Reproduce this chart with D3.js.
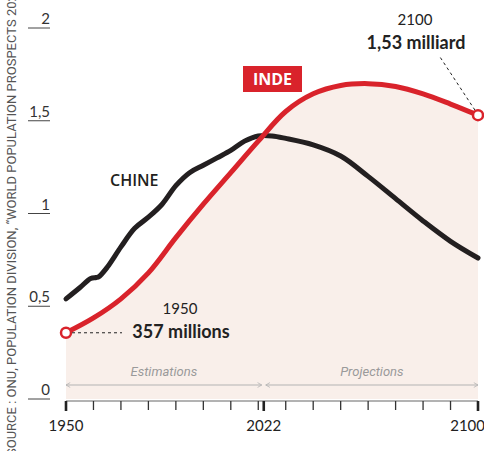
<!DOCTYPE html>
<html>
<head>
<meta charset="utf-8">
<script src="https://cdn.jsdelivr.net/npm/d3@7"></script>
<style>
  body { margin: 0; background: #fff; }
  svg { display: block; }
</style>
</head>
<body>
<div id="chart"></div>
<script>
// population in billions
var india_years = [1950, 1960, 1970, 1980, 1990, 2000, 2010, 2020, 2030, 2040, 2050, 2060, 2070, 2080, 2090, 2100];
var india_pop   = [0.357, 0.437, 0.54, 0.68, 0.87, 1.05, 1.22, 1.39, 1.55, 1.645, 1.69, 1.70, 1.685, 1.645, 1.59, 1.53];

var china_years = [1950, 1955, 1959, 1961, 1962, 1965, 1970, 1975, 1980, 1985, 1990, 1995, 2000, 2005, 2010, 2015, 2020, 2025, 2030, 2040, 2050, 2060, 2070, 2080, 2090, 2100];
var china_pop   = [0.54, 0.6, 0.65, 0.655, 0.66, 0.71, 0.82, 0.92, 0.98, 1.05, 1.15, 1.22, 1.26, 1.30, 1.34, 1.39, 1.418, 1.418, 1.405, 1.37, 1.31, 1.20, 1.08, 0.96, 0.85, 0.76];

var y_ticks = [0, 0.5, 1, 1.5, 2];
var y_labels = ["0", "0,5", "1", "1,5", "2"];
var x_major = [1950, 2022, 2100];
var x_minor = [1960, 1970, 1980, 1990, 2000, 2010, 2020, 2030, 2040, 2050, 2060, 2070, 2080, 2090];

var RED = "#d9232b", BLACK = "#231f20", PINK = "#f9efea", GREY = "#b3b3b3";

var width = 484, height = 451;

var svg = d3.select("#chart")
    .append("svg")
    .attr("width", width)
    .attr("height", height);

var x = d3.scaleLinear().domain([1950, 2100]).range([66, 478]);
var y = d3.scaleLinear().domain([0, 2]).range([399, 28]);

var india = india_years.map((d, i) => ({year: d, v: india_pop[i]}));
var china = china_years.map((d, i) => ({year: d, v: china_pop[i]}));

var curve = d3.curveCatmullRom.alpha(0.5);

// pink area under india
svg.append("path")
    .datum(india)
    .attr("fill", PINK)
    .attr("d", d3.area().curve(curve)
        .x(d => x(d.year)).y0(y(0)).y1(d => y(d.v)));

// y axis: labels sitting on short underlines
var yg = svg.append("g");
y_ticks.forEach(function (t, i) {
    yg.append("line")
        .attr("x1", 28).attr("x2", 50)
        .attr("y1", y(t)).attr("y2", y(t))
        .attr("stroke", "#444").attr("stroke-width", 1);
    yg.append("text")
        .attr("x", 50).attr("y", y(t) - 4)
        .attr("text-anchor", "end")
        .style("font-family", "Lato, sans-serif")
        .style("font-size", "15px")
        .attr("fill", "#333")
        .text(y_labels[i]);
});

// x axis
var xg = svg.append("g");
xg.append("line")
    .attr("x1", x(1950)).attr("x2", x(2100))
    .attr("y1", 401).attr("y2", 401)
    .attr("stroke", "#666").attr("stroke-width", 1);
xg.selectAll(".minor").data(x_minor).enter().append("line")
    .attr("x1", d => x(d)).attr("x2", d => x(d))
    .attr("y1", 401).attr("y2", 410)
    .attr("stroke", "#333").attr("stroke-width", 1.3);
xg.selectAll(".major").data(x_major).enter().append("line")
    .attr("x1", d => x(d)).attr("x2", d => x(d))
    .attr("y1", 401).attr("y2", 411)
    .attr("stroke", "#222").attr("stroke-width", 2.6);
xg.selectAll(".lab").data(x_major).enter().append("text")
    .attr("x", d => x(d)).attr("y", 431)
    .attr("text-anchor", d => d == 2100 ? "end" : "middle")
    .attr("dx", d => d == 2100 ? 7 : 0)
    .style("font-family", "Lato, sans-serif")
    .style("font-size", "15px")
    .attr("fill", "#222")
    .text(d => d);

// estimations / projections arrows
var defs = svg.append("defs");
defs.append("marker").attr("id", "arr").attr("viewBox", "0 0 10 10")
    .attr("refX", 9).attr("refY", 5)
    .attr("markerWidth", 6).attr("markerHeight", 6)
    .attr("orient", "auto-start-reverse")
    .append("path").attr("d", "M2,1 L9,5 L2,9")
    .attr("fill", "none").attr("stroke", GREY).attr("stroke-width", 1.3);

[[1950, 2022, "Estimations"], [2022, 2100, "Projections"]].forEach(function (p) {
    var x0 = x(p[0]) + (p[0] == 2022 ? 2 : 0), x1 = x(p[1]) - (p[1] == 2022 ? 2 : 0);
    svg.append("line")
        .attr("x1", x0).attr("x2", x1)
        .attr("y1", 385).attr("y2", 385)
        .attr("stroke", GREY).attr("stroke-width", 1)
        .attr("marker-start", "url(#arr)")
        .attr("marker-end", "url(#arr)");
    svg.append("text")
        .attr("x", (x0 + x1) / 2).attr("y", 376)
        .attr("text-anchor", "middle")
        .style("font-family", "Roboto, sans-serif")
        .style("font-style", "italic")
        .style("font-size", "13px")
        .attr("fill", "#9a9a9a")
        .text(p[2]);
});

// lines
var line = d3.line().curve(curve).x(d => x(d.year)).y(d => y(d.v));
svg.append("path").datum(china)
    .attr("fill", "none").attr("stroke", BLACK)
    .attr("stroke-width", 5).attr("stroke-linecap", "round")
    .attr("stroke-linejoin", "round")
    .attr("d", line);
svg.append("path").datum(india)
    .attr("fill", "none").attr("stroke", RED)
    .attr("stroke-width", 5).attr("stroke-linecap", "round")
    .attr("d", line);

// annotations with dashed leaders
var first = india[0], last = india[india.length - 1];
svg.append("line")
    .attr("x1", x(first.year) + 6).attr("x2", 122)
    .attr("y1", y(first.v)).attr("y2", y(first.v))
    .attr("stroke", "#222").attr("stroke-width", 1)
    .attr("stroke-dasharray", "3,3");
svg.append("line")
    .attr("x1", x(last.year) - 3).attr("x2", 440)
    .attr("y1", y(last.v) - 5).attr("y2", 57)
    .attr("stroke", "#222").attr("stroke-width", 1)
    .attr("stroke-dasharray", "3,3");

[first, last].forEach(function (d) {
    svg.append("circle")
        .attr("cx", x(d.year)).attr("cy", y(d.v)).attr("r", 5)
        .attr("fill", "#fff").attr("stroke", RED).attr("stroke-width", 2.5);
});

svg.append("text").attr("x", 180).attr("y", 314)
    .attr("text-anchor", "middle")
    .style("font-family", "Lato, sans-serif").style("font-size", "15px")
    .attr("fill", "#222").text("1950");
svg.append("text").attr("x", 181).attr("y", 338)
    .attr("text-anchor", "middle")
    .style("font-family", "Lato, sans-serif").style("font-size", "18px")
    .style("font-weight", "bold")
    .attr("fill", "#222").text("357 millions");

svg.append("text").attr("x", 415).attr("y", 25)
    .attr("text-anchor", "middle")
    .style("font-family", "Lato, sans-serif").style("font-size", "15px")
    .attr("fill", "#222").text("2100");
svg.append("text").attr("x", 416).attr("y", 49)
    .attr("text-anchor", "middle")
    .style("font-family", "Lato, sans-serif").style("font-size", "18px")
    .style("font-weight", "bold")
    .attr("fill", "#222").text("1,53 milliard");

// series labels
svg.append("text").attr("x", 110).attr("y", 186)
    .style("font-family", "'Open Sans', sans-serif").style("font-size", "16px")
    .style("font-weight", "600")
    .attr("fill", BLACK).text("CHINE");

svg.append("rect").attr("x", 243).attr("y", 66)
    .attr("width", 59).attr("height", 26).attr("fill", RED);
svg.append("text").attr("x", 272.5).attr("y", 85)
    .attr("text-anchor", "middle")
    .style("font-family", "'Open Sans', sans-serif").style("font-size", "16px")
    .style("font-weight", "bold")
    .attr("fill", "#fff").text("INDE");

// source, rotated along the left edge
svg.append("text")
    .attr("transform", "translate(16,456) rotate(-90)")
    .style("font-family", "Roboto, sans-serif").style("font-size", "13px")
    .attr("fill", "#555")
    .text("SOURCE : ONU, POPULATION DIVISION, \u201cWORLD POPULATION PROSPECTS 2022\u201d");
</script>
</body>
</html>
